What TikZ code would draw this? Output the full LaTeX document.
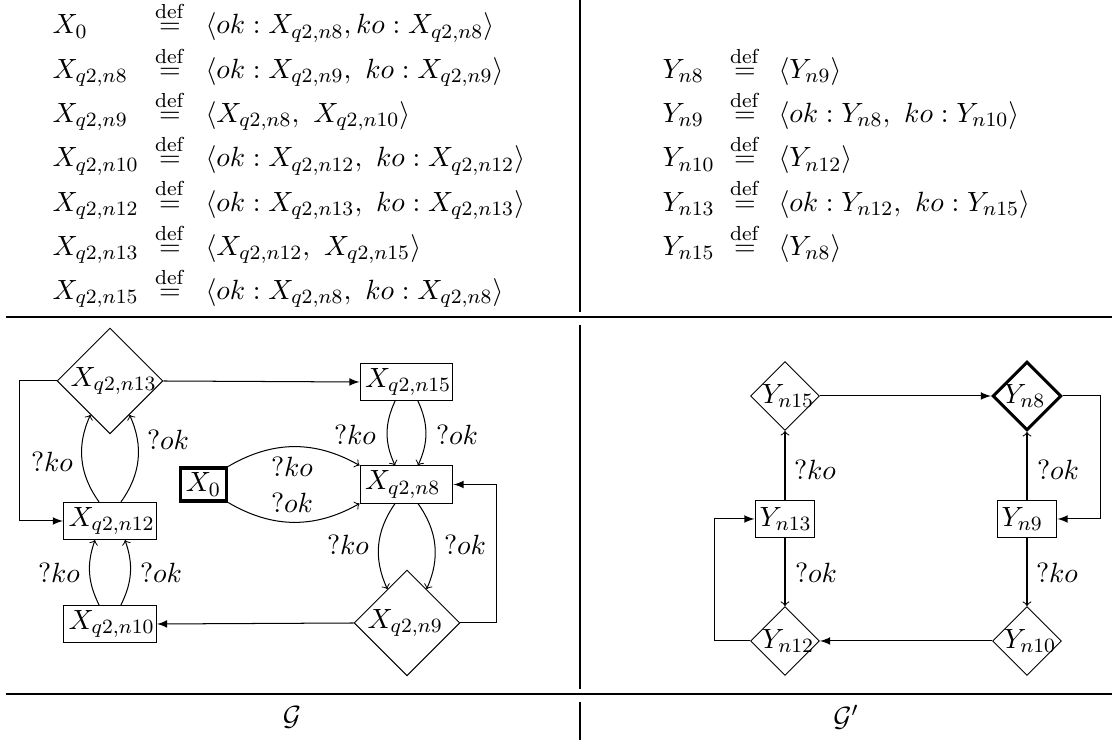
\documentclass[tikz,border=0pt]{standalone}
\usepackage{tikz}
\usetikzlibrary{shapes.geometric,arrows}

\newcommand{\gfont}{\fontsize{10.95}{13.5}\selectfont}
\newcommand{\eqdef}{\stackrel{\mathrm{def}}{=}}

\tikzset{
  eqn/.style={inner sep=0pt, anchor=base west, font=\gfont},
  eqs/.style={inner sep=0pt, anchor=base, font=\gfont},
  rule/.style={line width=0.7pt},
  xbox/.style={draw, rectangle, font=\gfont, text width=32.6pt, align=left,
    inner xsep=2pt, inner ysep=1.2pt, minimum height=14.6pt},
  ybox/.style={draw, rectangle, font=\gfont, text width=20pt, align=left,
    inner xsep=1.8pt, inner ysep=1.2pt, minimum height=14.2pt},
  xdiam/.style={draw, diamond, aspect=1, font=\gfont, text width=31pt,
    align=left, inner sep=0pt},
  ydiam/.style={draw, diamond, aspect=1, font=\gfont, text width=18pt,
    align=left, inner sep=0pt},
  lab/.style={font=\gfont, inner sep=0pt},
  flow/.style={-latex},
}

\begin{document}
\begin{tikzpicture}[%
      x=0.3937pt, y=-0.3937pt,
      ]
      \useasboundingbox (0,0) rectangle (1112,740);

      % table rules
      \draw [rule] (5.5,317) -- (1112,317);
      \draw [rule] (5.5,694) -- (1112,694);
      \draw (580,0) -- (580,312);
      \draw (580,325) -- (580,689);
      \draw (580,702) -- (580,740);

      % equations of G
      \node [eqn] (xl0) at (52,34) {$X_0$};
      \node [eqs] (xd0) at (170,34) {$\eqdef$};
      \node [eqn] (xr0) at (205,34) {$\langle ok : X_{q2,n8}, ko : X_{q2,n8}\rangle$};
      \node [eqn] (xl1) at (52,78.3) {$X_{q2,n8}$};
      \node [eqs] (xd1) at (170,78.3) {$\eqdef$};
      \node [eqn] (xr1) at (205,78.3) {$\langle ok : X_{q2,n9},\ ko : X_{q2,n9}\rangle$};
      \node [eqn] (xl2) at (52,122.6) {$X_{q2,n9}$};
      \node [eqs] (xd2) at (170,122.6) {$\eqdef$};
      \node [eqn] (xr2) at (205,122.6) {$\langle X_{q2,n8},\ X_{q2,n10}\rangle$};
      \node [eqn] (xl3) at (52,166.9) {$X_{q2,n10}$};
      \node [eqs] (xd3) at (170,166.9) {$\eqdef$};
      \node [eqn] (xr3) at (205,166.9) {$\langle ok : X_{q2,n12},\ ko : X_{q2,n12}\rangle$};
      \node [eqn] (xl4) at (52,211.2) {$X_{q2,n12}$};
      \node [eqs] (xd4) at (170,211.2) {$\eqdef$};
      \node [eqn] (xr4) at (205,211.2) {$\langle ok : X_{q2,n13},\ ko : X_{q2,n13}\rangle$};
      \node [eqn] (xl5) at (52,255.5) {$X_{q2,n13}$};
      \node [eqs] (xd5) at (170,255.5) {$\eqdef$};
      \node [eqn] (xr5) at (205,255.5) {$\langle X_{q2,n12},\ X_{q2,n15}\rangle$};
      \node [eqn] (xl6) at (52,299.8) {$X_{q2,n15}$};
      \node [eqs] (xd6) at (170,299.8) {$\eqdef$};
      \node [eqn] (xr6) at (205,299.8) {$\langle ok : X_{q2,n8},\ ko : X_{q2,n8}\rangle$};

      % equations of G'
      \node [eqn] (yl1) at (662,78.3) {$Y_{n8}$};
      \node [eqs] (yd1) at (745,78.3) {$\eqdef$};
      \node [eqn] (yr1) at (778,78.3) {$\langle Y_{n9}\rangle$};
      \node [eqn] (yl2) at (662,122.6) {$Y_{n9}$};
      \node [eqs] (yd2) at (745,122.6) {$\eqdef$};
      \node [eqn] (yr2) at (778,122.6) {$\langle ok : Y_{n8},\ ko : Y_{n10}\rangle$};
      \node [eqn] (yl3) at (662,166.9) {$Y_{n10}$};
      \node [eqs] (yd3) at (745,166.9) {$\eqdef$};
      \node [eqn] (yr3) at (778,166.9) {$\langle Y_{n12}\rangle$};
      \node [eqn] (yl4) at (662,211.2) {$Y_{n13}$};
      \node [eqs] (yd4) at (745,211.2) {$\eqdef$};
      \node [eqn] (yr4) at (778,211.2) {$\langle ok : Y_{n12},\ ko : Y_{n15}\rangle$};
      \node [eqn] (yl5) at (662,255.5) {$Y_{n15}$};
      \node [eqs] (yd5) at (745,255.5) {$\eqdef$};
      \node [eqn] (yr5) at (778,255.5) {$\langle Y_{n8}\rangle$};

      % graph G
      \node [xdiam] (x13) at (110,381) {$X_{q2,n13}$};
      \node [xbox] (x15) at (406.5,382) {$X_{q2,n15}$};
      \node [draw, very thick, font=\gfont, inner xsep=2.2pt, inner ysep=1.2pt,
        minimum height=13pt] (x0) at (203.5,484.5) {$X_0$};
      \node [xbox] (x8) at (406.5,484.5) {$X_{q2,n8}$};
      \node [xbox] (x12) at (110,521) {$X_{q2,n12}$};
      \node [xbox] (x10) at (110,624) {$X_{q2,n10}$};
      \node [xdiam] (x9) at (407,623) {$X_{q2,n9}$};

      \draw [flow] (x13.east) -- (x15.west);
      \draw [flow] (x13.west) -- ++(-37,0) |- (x12.west);
      \draw [flow] (x9.west) -- (x10.east);
      \draw [flow] (x9.east) -- ++(35.6,0) |- (x8.east);

      \draw [->] (x0.north east) to[bend left=30] (x8.north west);
      \draw [->] (x0.south east) to[bend right=30] (x8.south west);
      \draw [->] ([xshift=-4.5pt]x15.south) to[bend right=25] ([xshift=-4.5pt]x8.north);
      \draw [->] ([xshift=4.5pt]x15.south) to[bend left=25] ([xshift=4.5pt]x8.north);
      \draw [->] ([xshift=-4.5pt]x8.south) to[bend right=30] (x9.120);
      \draw [->] ([xshift=4.5pt]x8.south) to[bend left=30] (x9.60);
      \draw [->] ([xshift=-4.3pt]x12.north) to[bend left=30] (x13.240);
      \draw [->] ([xshift=4.3pt]x12.north) to[bend right=30] (x13.300);
      \draw [->] ([xshift=-4.3pt]x10.north) to[bend left=23] ([xshift=-5.9pt]x12.south);
      \draw [->] ([xshift=4.3pt]x10.north) to[bend right=23] ([xshift=5.9pt]x12.south);

      \node [lab] (l1) at (52,462) {$?ko$};
      \node [lab] (l2) at (168,440) {$?ok$};
      \node [lab] (l3) at (59,573) {$?ko$};
      \node [lab] (l4) at (161,573) {$?ok$};
      \node [lab] (l5) at (355,435) {$?ko$};
      \node [lab] (l6) at (457,435) {$?ok$};
      \node [lab] (l7) at (292,467) {$?ko$};
      \node [lab] (l8) at (292,503) {$?ok$};
      \node [lab] (l9) at (348,545) {$?ko$};
      \node [lab] (l10) at (465,545) {$?ok$};

      % graph G'
      \node [ydiam] (y15) at (785,396) {$Y_{n15}$};
      \node [ydiam, very thick] (y8) at (1027,396) {$Y_{n8}$};
      \node [ybox] (y13) at (785,519) {$Y_{n13}$};
      \node [ybox] (y9) at (1027,519) {$Y_{n9}$};
      \node [ydiam] (y12) at (785,641) {$Y_{n12}$};
      \node [ydiam] (y10) at (1027,641) {$Y_{n10}$};

      \draw [flow] (y15.east) -- (y8.west);
      \draw [flow] (y8.east) -- ++(38,0) |- (y9.east);
      \draw [flow] (y10.west) -- (y12.east);
      \draw [flow] (y12.west) -- ++(-36,0) |- (y13.west);
      \draw [->] (y13.north) -- (y15.south);
      \draw [->] (y13.south) -- (y12.north);
      \draw [->] (y9.north) -- (y8.south);
      \draw [->] (y9.south) -- (y10.north);

      \node [lab] (m1) at (815,470) {$?ko$};
      \node [lab] (m2) at (816,573) {$?ok$};
      \node [lab] (m3) at (1058,470) {$?ok$};
      \node [lab] (m4) at (1057,573) {$?ko$};

      \node [lab] (g) at (292,717) {$\mathcal{G}$};
      \node [lab] (gp) at (846,717) {$\mathcal{G}'$};
\end{tikzpicture}
\end{document}
